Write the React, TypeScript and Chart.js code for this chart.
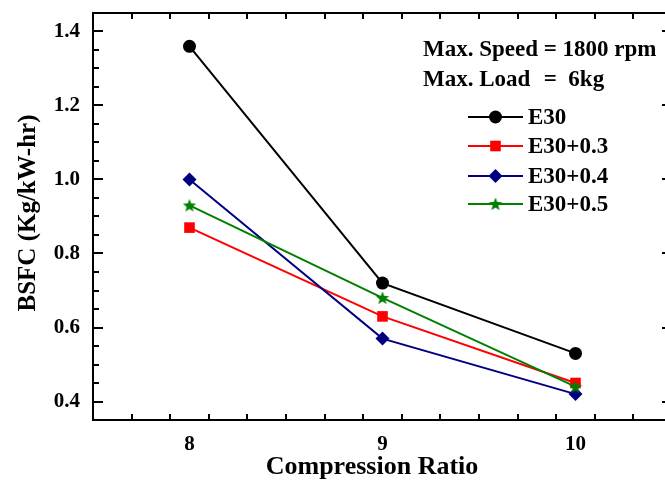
import React, { useEffect, useRef } from "react";
import { Chart, registerables } from "chart.js";

Chart.register(...registerables);

// Compression ratio on the x axis, BSFC values for each blend
const compressionRatios = [8, 9, 10];
const bsfcE30 = [1.36, 0.72, 0.53];
const bsfcE30p03 = [0.87, 0.63, 0.45];
const bsfcE30p04 = [1.0, 0.57, 0.42];
const bsfcE30p05 = [0.93, 0.68, 0.44];

const seriesNames = ["E30", "E30+0.3", "E30+0.4", "E30+0.5"];
const seriesColors = ["#000000", "#ff0000", "#000080", "#008000"];

const xTickValues = [8, 9, 10];
const yTickValues = [0.4, 0.6, 0.8, 1.0, 1.2, 1.4];
const xRange = [7.5, 10.5];
const yRange = [0.35, 1.45];
const xMinorStep = 0.2;
const yMinorStep = 0.05;

const noteLine1 = ["Max. Speed ", "= 1800 rpm"];
const noteLine2 = ["Max. Load", "=  6kg"];
const xTitle = "Compression Ratio";
const yTitle = "BSFC (Kg/kW-hr)";

const SERIF = "'Liberation Serif', 'Times New Roman', serif";

function makeStar(color: string, outer: number, inner: number): HTMLCanvasElement {
  const size = Math.ceil(outer * 2 + 2);
  const c = document.createElement("canvas");
  c.width = size;
  c.height = size;
  const ctx = c.getContext("2d")!;
  const cx = size / 2;
  const cy = size / 2 + 0.5;
  ctx.beginPath();
  for (let i = 0; i < 10; i++) {
    const r = i % 2 === 0 ? outer : inner;
    const a = -Math.PI / 2 + (i * Math.PI) / 5;
    const px = cx + r * Math.cos(a);
    const py = cy + r * Math.sin(a);
    if (i === 0) ctx.moveTo(px, py);
    else ctx.lineTo(px, py);
  }
  ctx.closePath();
  ctx.fillStyle = color;
  ctx.fill();
  return c;
}

function drawMarker(ctx: CanvasRenderingContext2D, style: any, radius: number, x: number, y: number, color: string) {
  ctx.save();
  ctx.fillStyle = color;
  if (style instanceof HTMLCanvasElement) {
    ctx.drawImage(style, x - style.width / 2, y - style.height / 2);
  } else if (style === "circle") {
    ctx.beginPath();
    ctx.arc(x, y, radius, 0, Math.PI * 2);
    ctx.fill();
  } else if (style === "rect") {
    const s = radius * Math.SQRT1_2;
    ctx.fillRect(x - s, y - s, 2 * s, 2 * s);
  } else if (style === "rectRot") {
    ctx.beginPath();
    ctx.moveTo(x - radius, y);
    ctx.lineTo(x, y - radius);
    ctx.lineTo(x + radius, y);
    ctx.lineTo(x, y + radius);
    ctx.closePath();
    ctx.fill();
  }
  ctx.restore();
}

const framePlugin = {
  id: "originFrame",
  beforeDatasetsDraw(chart: any) {
    const { ctx, chartArea } = chart;
    const { left, right, top, bottom } = chartArea;
    const xs = chart.scales.x;
    const ys = chart.scales.y;
    const major = 10;
    const minor = 6;
    ctx.save();
    ctx.strokeStyle = "#000";
    ctx.lineWidth = 2;
    ctx.lineCap = "butt";
    ctx.beginPath();
    // x ticks on bottom and top
    for (let v = xRange[0] + xMinorStep; v < xRange[1] - 1e-6; v += xMinorStep) {
      const isMajor = xTickValues.some((t) => Math.abs(t - v) < 1e-6);
      const len = isMajor ? major : minor;
      const px = Math.round(xs.getPixelForValue(v));
      ctx.moveTo(px, bottom);
      ctx.lineTo(px, bottom - len);
      ctx.moveTo(px, top);
      ctx.lineTo(px, top + len);
    }
    // y ticks on left and right
    for (let v = yRange[0] + yMinorStep; v < yRange[1] - 1e-6; v += yMinorStep) {
      const isMajor = yTickValues.some((t) => Math.abs(t - v) < 1e-6);
      const len = isMajor ? major : minor;
      const py = Math.round(ys.getPixelForValue(v));
      ctx.moveTo(left, py);
      ctx.lineTo(left + len, py);
      ctx.moveTo(right, py);
      ctx.lineTo(right - len, py);
    }
    ctx.stroke();
    ctx.strokeRect(left, top, right - left, bottom - top);
    ctx.restore();
  },
  afterDatasetsDraw(chart: any) {
    const { ctx } = chart;
    ctx.save();
    ctx.fillStyle = "#000";

    // axis titles
    ctx.font = `bold 26px ${SERIF}`;
    ctx.textAlign = "center";
    ctx.textBaseline = "alphabetic";
    ctx.fillText(xTitle, 372, 474);

    ctx.save();
    ctx.font = `bold 25px ${SERIF}`;
    ctx.translate(35, 213);
    ctx.rotate(-Math.PI / 2);
    ctx.fillText(yTitle, 0, 0);
    ctx.restore();

    // operating conditions note
    ctx.font = `bold 23px ${SERIF}`;
    ctx.textAlign = "left";
    ctx.textBaseline = "middle";
    const nx = 423;
    const eqX = nx + ctx.measureText(noteLine1[0]).width;
    ctx.fillText(noteLine1[0], nx, 50);
    ctx.fillText(noteLine1[1], eqX, 50);
    ctx.fillText(noteLine2[0], nx, 80);
    ctx.fillText(noteLine2[1], eqX, 80);

    // legend
    const rows = [117, 146, 176, 204];
    chart.data.datasets.forEach((ds: any, i: number) => {
      const y = rows[i];
      ctx.strokeStyle = ds.borderColor;
      ctx.lineWidth = 2;
      ctx.beginPath();
      ctx.moveTo(468, y);
      ctx.lineTo(523, y);
      ctx.stroke();
      drawMarker(ctx, ds.pointStyle, ds.pointRadius, 495.5, y, ds.backgroundColor);
      ctx.fillStyle = "#000";
      ctx.fillText(ds.label, 528, y + 1);
    });
    ctx.restore();
  },
};

export default function App() {
  const canvasRef = useRef<HTMLCanvasElement | null>(null);

  useEffect(() => {
    const canvas = canvasRef.current;
    if (!canvas) return;
    const star = makeStar(seriesColors[3], 7, 3);
    const series = [bsfcE30, bsfcE30p03, bsfcE30p04, bsfcE30p05];
    const styles: any[] = ["circle", "rect", "rectRot", star];
    const radii = [6.5, 7.5, 7, 7];

    const chart = new Chart(canvas, {
      type: "line",
      data: {
        datasets: series.map((vals, i) => ({
          label: seriesNames[i],
          data: compressionRatios.map((x, j) => ({ x, y: vals[j] })),
          borderColor: seriesColors[i],
          backgroundColor: seriesColors[i],
          pointBackgroundColor: seriesColors[i],
          pointBorderColor: seriesColors[i],
          pointBorderWidth: 0,
          borderWidth: 2,
          pointStyle: styles[i],
          pointRadius: radii[i],
          tension: 0,
          order: series.length - i,
        })),
      },
      options: {
        animation: false,
        responsive: false,
        devicePixelRatio: 1,
        layout: { padding: { left: 0, top: 13, right: 18, bottom: 0 } },
        plugins: { legend: { display: false }, tooltip: { enabled: false } },
        scales: {
          x: {
            type: "linear",
            min: xRange[0],
            max: xRange[1],
            grid: { display: false, drawTicks: false },
            border: { display: false },
            afterBuildTicks: (scale: any) => {
              scale.ticks = xTickValues.map((value) => ({ value }));
            },
            afterFit: (scale: any) => {
              scale.height = 62;
              scale.paddingLeft = 0;
              scale.paddingRight = 0;
            },
            ticks: {
              color: "#000",
              padding: 12,
              maxRotation: 0,
              font: { family: SERIF, size: 21, weight: "bold" },
              callback: (v: any) => String(v),
            },
          },
          y: {
            type: "linear",
            min: yRange[0],
            max: yRange[1],
            grid: { display: false, drawTicks: false },
            border: { display: false },
            afterBuildTicks: (scale: any) => {
              scale.ticks = yTickValues.map((value) => ({ value }));
            },
            afterFit: (scale: any) => {
              scale.width = 93;
              scale.paddingTop = 0;
              scale.paddingBottom = 0;
            },
            ticks: {
              color: "#000",
              padding: 13,
              font: { family: SERIF, size: 21, weight: "bold" },
              callback: (v: any) => Number(v).toFixed(1),
            },
          },
        },
      },
      plugins: [framePlugin],
    });
    return () => chart.destroy();
  }, []);

  return (
    <div
      style={{
        position: "fixed",
        left: 0,
        top: 0,
        width: 665,
        height: 482,
        overflow: "hidden",
        background: "#fff",
      }}
    >
      <canvas ref={canvasRef} width={690} height={482} style={{ display: "block" }} />
    </div>
  );
}
